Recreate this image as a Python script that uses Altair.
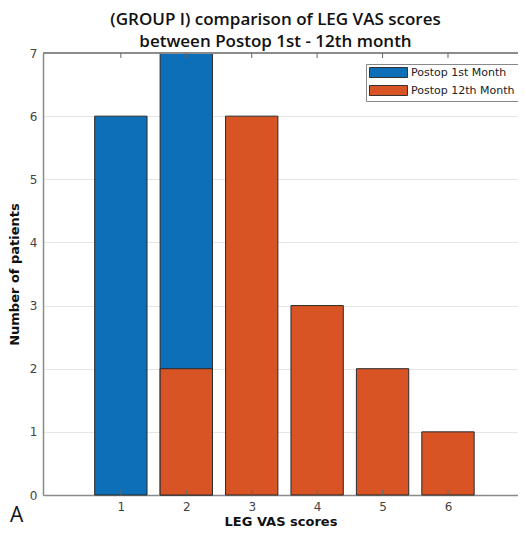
import altair as alt
import pandas as pd

scores = [1, 2, 3, 4, 5, 6]
first_month = [6, 7, 0, 0, 0, 0]
twelfth_month = [0, 2, 6, 3, 2, 1]
series_names = ["Postop 1st Month", "Postop 12th Month"]
colors = ["#0C6FB8", "#D95425"]
y_ticks = [0, 1, 2, 3, 4, 5, 6, 7]

rows = []
for s, v in zip(scores, first_month):
    if v > 0:
        rows.append({"score": s, "count": v, "series": series_names[0]})
for s, v in zip(scores, twelfth_month):
    if v > 0:
        rows.append({"score": s, "count": v, "series": series_names[1]})
df = pd.DataFrame(rows)
ticks_df = pd.DataFrame({"score": scores})

W, H = 475, 442
xscale = alt.Scale(domain=[-0.19, 7.07], nice=False, zero=False)
yscale = alt.Scale(domain=[0, 7], nice=False)

bars = alt.Chart(df).transform_calculate(
    x0="datum.score - 0.4", x1="datum.score + 0.4"
).mark_bar(stroke="#2a2a2a", strokeWidth=1).encode(
    x=alt.X("x0:Q", scale=xscale,
            axis=alt.Axis(values=scores, title="LEG VAS scores", ticks=False,
                          grid=False, format="d", labelPadding=6,
                          domainColor="#8a8a8a", labelColor="#444",
                          labelFont="DejaVu Sans", labelFontSize=12,
                          titleFont="DejaVu Sans", titleFontWeight="bold",
                          titleFontSize=13, titlePadding=3, titleColor="#111")),
    x2="x1:Q",
    y=alt.Y("count:Q", scale=yscale, stack=None,
            axis=alt.Axis(values=y_ticks, title="Number of patients", ticks=False,
                          grid=True, gridColor="#e6e6e6", format="d",
                          labelPadding=6, domainColor="#8a8a8a", labelColor="#444",
                          labelFont="DejaVu Sans", labelFontSize=12,
                          titleFont="DejaVu Sans", titleFontWeight="bold",
                          titleFontSize=13, titlePadding=8, titleColor="#111")),
    y2=alt.datum(0),
    color=alt.Color("series:N", sort=series_names,
                    scale=alt.Scale(domain=series_names, range=colors),
                    legend=alt.Legend(title=None, orient="none", legendX=323, legendY=11,
                                      symbolType="M-3.8,-1H3.8V1H-3.8Z", symbolSize=100,
                                      symbolOffset=14,
                                      symbolStrokeColor="#333", symbolStrokeWidth=1,
                                      labelFont="DejaVu Sans", labelFontSize=11,
                                      labelColor="#222", strokeColor="#888",
                                      fillColor="white", padding=3, rowPadding=3,
                                      labelOffset=17)),
)

top_border = alt.Chart(ticks_df).mark_rule(color="#8a8a8a").encode(
    x=alt.value(0), x2=alt.value(W), y=alt.value(0)
)
top_ticks = alt.Chart(ticks_df).mark_rule(color="#666").encode(
    x=alt.X("score:Q", scale=xscale), y=alt.value(0), y2=alt.value(5)
)
bottom_ticks = alt.Chart(ticks_df).mark_rule(color="#666").encode(
    x=alt.X("score:Q", scale=xscale), y=alt.value(H), y2=alt.value(H - 5)
)
label_a = alt.Chart(pd.DataFrame({"t": ["A"]})).mark_text(
    font="Open Sans", fontSize=21, color="#111", align="left", baseline="alphabetic"
).encode(text="t:N", x=alt.value(-33), y=alt.value(H + 27))

chart = alt.layer(bars, top_border, top_ticks, bottom_ticks, label_a).properties(
    width=W, height=H,
    autosize=alt.AutoSizeParams(type="none"),
    padding={"left": 35, "top": 45, "right": 0, "bottom": 32},
    title=alt.TitleParams(
        text=["(GROUP I) comparison of LEG VAS scores",
              "between Postop 1st - 12th month"],
        font="Open Sans", fontSize=17, fontWeight=600, color="#111",
        anchor="middle", dx=-5, offset=-4, lineHeight=22,
    ),
).configure_view(stroke=None).configure_axis(domainWidth=1.5)

chart.save("out.html", embed_options={"renderer": "svg", "actions": False})
